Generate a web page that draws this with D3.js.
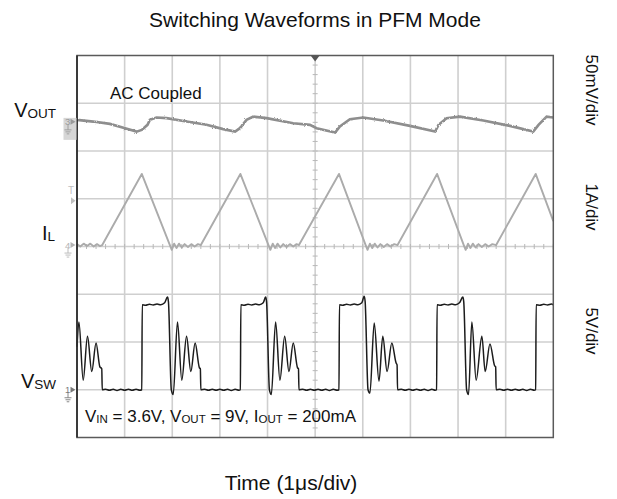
<!DOCTYPE html>
<html><head><meta charset="utf-8">
<script src="https://cdn.jsdelivr.net/npm/d3@7"></script>
<style>
body{margin:0;background:#fff;}
svg{display:block;}
text{font-family:"Liberation Sans",Arial,Helvetica,sans-serif;}
</style>
</head><body>
<svg id="chart" width="617" height="499"></svg>
<script>
// ---------------- data ----------------
const timeDivs = [0,1,2,3,4,5,6,7,8,9,10];        // μs (1 μs/div)
const ampDivs  = [0,1,2,3,4,5,6,7,8];              // vertical divisions

// V_OUT (AC coupled), [time μs, mV]
const voutTime_mV = [
 [0.00,2.1],[0.34,0.3],[0.69,-2.1],[1.01,-6.6],[1.25,-10.2],[1.36,-8.4],[1.48,-3.1],[1.53,2.1],[1.67,4.5],[1.88,3.9],
 [2.30,0.3],[2.72,-3.1],[3.07,-7.6],[3.32,-10.2],[3.42,-6.6],[3.56,2.1],[3.70,5.5],[3.98,3.9],[4.54,-1.4],[4.89,-3.1],
 [5.03,-6.6],[5.42,-11.2],[5.52,-4.9],[5.73,2.8],[6.01,4.5],[6.43,1.4],[6.99,-4.2],[7.52,-10.2],[7.59,-3.1],[7.76,3.9],
 [8.04,5.5],[8.53,1.4],[9.09,-4.2],[9.58,-10.2],[9.69,-3.1],[9.86,5.5],[10.00,4.5]
];

// I_L, [time μs, A]
const ilTime_A = [
 [0.00,0.02],[0.07,-0.03],[0.14,0.03],[0.21,-0.02],[0.28,0.03],[0.35,-0.03],[0.42,0.02],[0.48,-0.02],[0.53,0.0],
 [1.36,1.49],[1.95,0.0],[1.99,-0.1],[2.04,0.03],[2.09,-0.06],[2.14,0.03],[2.20,-0.05],[2.26,0.02],[2.33,-0.04],[2.40,0.02],[2.47,-0.03],[2.54,0.02],[2.60,0.0],
 [3.43,1.49],[4.02,0.0],[4.06,-0.1],[4.11,0.03],[4.16,-0.06],[4.21,0.03],[4.27,-0.05],[4.33,0.02],[4.40,-0.04],[4.47,0.02],[4.54,-0.03],[4.61,0.02],[4.66,0.0],
 [5.50,1.49],[6.06,0.0],[6.10,-0.1],[6.15,0.03],[6.20,-0.06],[6.25,0.03],[6.31,-0.05],[6.37,0.02],[6.44,-0.04],[6.51,0.02],[6.58,-0.03],[6.66,0.02],[6.73,0.0],
 [7.56,1.49],[8.12,0.0],[8.16,-0.1],[8.21,0.03],[8.26,-0.06],[8.31,0.03],[8.37,-0.05],[8.43,0.02],[8.50,-0.04],[8.57,0.02],[8.64,-0.03],[8.72,0.02],[8.80,0.0],
 [9.63,1.49],[10.00,0.5]
];

// V_SW, [time μs, V]
const vswTime_V = [
 [0.00,4.5],[0.04,7.1],[0.13,1.0],[0.22,5.6],[0.31,1.9],[0.40,4.9],[0.48,2.4],[0.52,2.2],[0.53,0.0],
 [0.60,0.06],[0.68,-0.05],[0.76,0.05],[0.84,-0.07],[0.92,0.05],[1.00,-0.05],[1.08,0.06],[1.16,-0.06],[1.24,0.05],[1.32,-0.05],[1.36,0.0],
 [1.37,8.9],[1.44,8.85],[1.52,8.95],[1.60,8.88],[1.68,8.97],[1.76,8.9],[1.84,9.1],[1.90,9.7],
 [1.92,9.2],[1.98,0.0],[2.02,-0.5],[2.11,7.1],[2.20,1.0],[2.30,5.6],[2.39,1.9],[2.48,4.9],[2.57,2.3],[2.59,2.2],[2.60,0.0],
 [2.68,0.05],[2.76,-0.06],[2.84,0.05],[2.92,-0.05],[3.00,0.06],[3.08,-0.05],[3.16,0.05],[3.24,-0.07],[3.32,0.05],[3.40,-0.05],[3.43,0.0],
 [3.44,8.9],[3.51,8.85],[3.59,8.95],[3.67,8.88],[3.75,8.97],[3.83,8.9],[3.91,9.1],[3.96,9.7],
 [3.98,9.2],[4.04,0.0],[4.08,-0.5],[4.17,7.1],[4.26,1.0],[4.36,5.6],[4.45,1.9],[4.54,4.9],[4.63,2.3],[4.65,2.2],[4.66,0.0],
 [4.74,0.05],[4.82,-0.06],[4.90,0.05],[4.98,-0.05],[5.06,0.06],[5.14,-0.05],[5.22,0.05],[5.30,-0.07],[5.38,0.05],[5.46,-0.05],[5.50,0.0],
 [5.51,8.9],[5.58,8.85],[5.66,8.95],[5.74,8.88],[5.82,8.97],[5.90,8.9],[5.98,9.1],[6.03,9.8],
 [6.05,9.2],[6.11,0.0],[6.15,-0.35],[6.24,7.0],[6.34,0.9],[6.42,5.6],[6.51,1.9],[6.61,4.9],[6.70,2.8],[6.72,2.6],[6.73,0.0],
 [6.81,0.05],[6.89,-0.06],[6.97,0.05],[7.05,-0.05],[7.13,0.06],[7.21,-0.05],[7.29,0.05],[7.37,-0.07],[7.45,0.05],[7.52,-0.05],[7.55,0.0],
 [7.56,8.9],[7.63,8.85],[7.71,8.95],[7.79,8.88],[7.87,8.97],[7.95,8.9],[8.03,9.1],[8.10,9.7],
 [8.12,9.2],[8.18,0.0],[8.22,-0.5],[8.29,7.1],[8.38,1.0],[8.50,5.6],[8.57,1.9],[8.67,4.8],[8.77,2.5],[8.79,2.4],[8.80,0.0],
 [8.88,0.05],[8.96,-0.06],[9.04,0.05],[9.12,-0.05],[9.20,0.06],[9.28,-0.05],[9.36,0.05],[9.44,-0.07],[9.52,0.05],[9.60,-0.05],[9.63,0.0],
 [9.64,8.9],[9.72,8.85],[9.80,8.95],[9.88,8.88],[9.96,8.97],[10.00,8.9]
];

// channel settings: units per division and ground marker level (in divisions)
const channelScale = { vout: 50, il: 1, vsw: 5 };
const channelGround = { vout: 6.61, il: 4.03, vsw: 1.0 };
const scaleLabels = ["50mV/div", "1A/div", "5V/div"];

// ---------------- drawing ----------------
const svg = d3.select("#chart");
const L = 77, R = 553.3, T = 55.5, B = 437.5;
const x = d3.scaleLinear().domain([0,10]).range([L,R]);
const y = d3.scaleLinear().domain([0,8]).range([B,T]);

const defs = svg.append("defs");
const f = defs.append("filter").attr("id","fuzz").attr("filterUnits","userSpaceOnUse")
  .attr("x",60).attr("y",40).attr("width",520).attr("height",420);
f.append("feTurbulence").attr("type","fractalNoise").attr("baseFrequency","0.9 0.6").attr("numOctaves",1).attr("seed",4).attr("result","n");
f.append("feDisplacementMap").attr("in","SourceGraphic").attr("in2","n").attr("scale",2.6)
  .attr("xChannelSelector","R").attr("yChannelSelector","G");

// grid
const g = svg.append("g");
g.selectAll("line.v").data(timeDivs.slice(1,-1)).join("line")
  .attr("x1",d=>x(d)).attr("x2",d=>x(d)).attr("y1",T).attr("y2",B)
  .attr("stroke","#cfcfcf").attr("stroke-width",1.6);
g.selectAll("line.h").data(ampDivs.slice(1,-1)).join("line")
  .attr("y1",d=>y(d)).attr("y2",d=>y(d)).attr("x1",L).attr("x2",R)
  .attr("stroke","#cfcfcf").attr("stroke-width",1.6);

// minor ticks on center cross
const minorT = d3.range(0, 10.001, 0.2);
const minorA = d3.range(0, 8.001, 0.2);
g.selectAll("line.mt").data(minorT).join("line")
  .attr("x1",d=>x(d)).attr("x2",d=>x(d)).attr("y1",y(4)-2.5).attr("y2",y(4)+2.5)
  .attr("stroke","#b8b8b8").attr("stroke-width",1);
g.selectAll("line.ma").data(minorA).join("line")
  .attr("y1",d=>y(d)).attr("y2",d=>y(d)).attr("x1",x(5)-2.5).attr("x2",x(5)+2.5)
  .attr("stroke","#b8b8b8").attr("stroke-width",1);

// traces
const line = (key, curve) => d3.line()
  .curve(curve || d3.curveLinear)
  .x(d=>x(d[0]))
  .y(d=>y(channelGround[key] + d[1]/channelScale[key]));

svg.append("path").datum(voutTime_mV).attr("d",line("vout"))
  .attr("fill","none").attr("stroke","#8e8e8e").attr("stroke-width",2.6)
  .attr("filter","url(#fuzz)");
svg.append("path").datum(ilTime_A).attr("d",line("il"))
  .attr("fill","none").attr("stroke","#ababab").attr("stroke-width",1.9)
  .attr("stroke-linejoin","round");
svg.append("path").datum(vswTime_V).attr("d",line("vsw", d3.curveMonotoneX))
  .attr("fill","none").attr("stroke","#1c1c1c").attr("stroke-width",1.5)
  .attr("stroke-linejoin","round");

// frame
svg.append("rect").attr("x",L).attr("y",T).attr("width",R-L).attr("height",B-T)
  .attr("fill","none").attr("stroke","#5a5a5a").attr("stroke-width",1.5);
svg.append("line").attr("x1",L).attr("x2",L).attr("y1",T).attr("y2",B)
  .attr("stroke","#222").attr("stroke-width",1.5);

// trigger position marker
svg.append("path").attr("d",`M${x(5)-4.5},${T} L${x(5)+4.5},${T} L${x(5)},${T+6} Z`).attr("fill","#555");

// channel markers
function marker(level, label, color, boxed){
  const yy = y(level);
  const m = svg.append("g");
  if (boxed) m.append("rect").attr("x",63.5).attr("y",yy-4).attr("width",13).attr("height",22).attr("fill","#d6d6d6");
  m.append("text").attr("x",65).attr("y",yy+3.5).attr("font-size",9.5).attr("fill",color).text(label);
  m.append("path").attr("d",`M70.5,${yy-3} L75.5,${yy} L70.5,${yy+3} Z`).attr("fill",color);
  m.append("path").attr("d",`M68,${yy+3} L68,${yy+8} M64.5,${yy+8} L71.5,${yy+8} M65.5,${yy+10} L70.5,${yy+10} M66.7,${yy+12} L69.3,${yy+12}`)
    .attr("stroke",color).attr("stroke-width",0.9).attr("fill","none");
}
marker(channelGround.vout, "3", "#9a9a9a", true);
marker(channelGround.il, "4", "#b5b5b5", false);
marker(channelGround.vsw, "1", "#7a7a7a", false);
// trigger level marker
svg.append("text").attr("x",68).attr("y",y(5.01)-4).attr("font-size",10).attr("fill","#c0c0c0").text("T");
svg.append("path").attr("d",`M71,${y(5.01)-1} L75.5,${y(5.01)+2.5} L71,${y(5.01)+6} Z`).attr("fill","#c0c0c0");

// titles
svg.append("text").attr("x",315).attr("y",26.5).attr("text-anchor","middle")
  .attr("font-size",21).attr("fill","#111").text("Switching Waveforms in PFM Mode");
svg.append("text").attr("x",291).attr("y",490).attr("text-anchor","middle")
  .attr("font-size",21).attr("fill","#111").text("Time (1μs/div)");
svg.append("text").attr("x",110).attr("y",99).attr("font-size",17).attr("fill","#111").text("AC Coupled");

// channel names on left
function subLabel(xr, yb, main, sub, fs, fss){
  const t = svg.append("text").attr("x",xr).attr("y",yb).attr("text-anchor","end").attr("fill","#111");
  t.append("tspan").attr("font-size",fs).text(main);
  t.append("tspan").attr("font-size",fss).attr("dy",1).text(sub);
}
subLabel(56, 117, "V", "OUT", 20, 13.5);
subLabel(55, 240, "I", "L", 20, 13.5);
subLabel(56, 388, "V", "SW", 20, 13.5);

// conditions line
const cond = svg.append("text").attr("x",85).attr("y",421.5).attr("fill","#111").attr("font-size",17);
[["V",false],["IN",true],[" = 3.6V, V",false],["OUT",true],[" = 9V, I",false],["OUT",true],[" = 200mA",false]]
  .forEach(([s,sub],i,arr)=>{
    const ts = cond.append("tspan").text(s);
    if (sub) ts.attr("font-size",11.5).attr("dy",1);
    else if (i>0 && arr[i-1][1]) ts.attr("dy",-1);
  });

// scale labels on right (rotated)
const scaleY = [90, 207, 331];
scaleLabels.forEach((s,i)=>{
  svg.append("text").attr("transform",`translate(586,${scaleY[i]}) rotate(90)`)
    .attr("text-anchor","middle").attr("font-size",17).attr("fill","#111").text(s);
});
</script>
</body></html>
